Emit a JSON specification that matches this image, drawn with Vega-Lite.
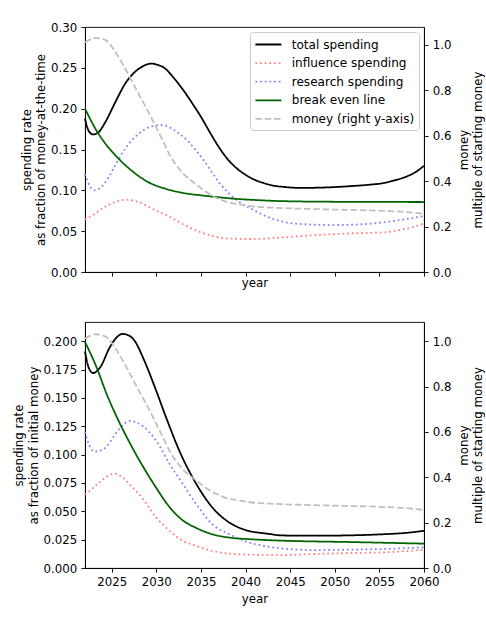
{
"$schema": "https://vega.github.io/schema/vega-lite/v6.json",
"padding": {"left": 13, "top": 21, "right": 0, "bottom": 0},
"spacing": 31,
"config": {
 "font": "DejaVu Sans",
 "view": {"stroke": "black", "strokeWidth": 0.9},
 "axis": {"grid": false, "domainColor": "black", "domainWidth": 0.9, "tickColor": "black", "tickWidth": 0.9, "tickSize": 4.1, "labelFont": "DejaVu Sans", "labelFontSize": 11.8, "labelColor": "black", "titleFont": "DejaVu Sans", "titleFontSize": 11.8, "titleFontWeight": "normal", "titleColor": "black", "labelPadding": 4.1, "titlePadding": 4, "titleLineHeight": 14.5, "labelOverlap": false, "labelFlush": false, "labelBound": false},
 "legend": {"orient": "top-right", "offset": 5, "strokeColor": "#cccccc", "fillColor": "white", "cornerRadius": 3, "padding": 4.5, "labelFont": "DejaVu Sans", "labelFontSize": 12.1, "labelColor": "black", "symbolType": "M-1.84,0H1.84", "symbolSize": 200, "symbolStrokeWidth": 1.77, "symbolOffset": 5.9, "rowPadding": 3.6, "labelOffset": 15.3, "title": null}
},
"datasets": {"d": [
{"panel":"top","series":"total spending","year":2022,"value":0.188},
{"panel":"top","series":"total spending","year":2022.4,"value":0.173},
{"panel":"top","series":"total spending","year":2022.9,"value":0.1685},
{"panel":"top","series":"total spending","year":2023.5,"value":0.171},
{"panel":"top","series":"total spending","year":2024.3,"value":0.184},
{"panel":"top","series":"total spending","year":2025.4,"value":0.208},
{"panel":"top","series":"total spending","year":2026.5,"value":0.2306},
{"panel":"top","series":"total spending","year":2027.6,"value":0.245},
{"panel":"top","series":"total spending","year":2028.5,"value":0.252},
{"panel":"top","series":"total spending","year":2029.4,"value":0.2552},
{"panel":"top","series":"total spending","year":2030.2,"value":0.2535},
{"panel":"top","series":"total spending","year":2031,"value":0.249},
{"panel":"top","series":"total spending","year":2032,"value":0.237},
{"panel":"top","series":"total spending","year":2033,"value":0.223},
{"panel":"top","series":"total spending","year":2034,"value":0.207},
{"panel":"top","series":"total spending","year":2035,"value":0.19},
{"panel":"top","series":"total spending","year":2036,"value":0.171},
{"panel":"top","series":"total spending","year":2037,"value":0.153},
{"panel":"top","series":"total spending","year":2038,"value":0.138},
{"panel":"top","series":"total spending","year":2039,"value":0.127},
{"panel":"top","series":"total spending","year":2040,"value":0.119},
{"panel":"top","series":"total spending","year":2041,"value":0.113},
{"panel":"top","series":"total spending","year":2042,"value":0.109},
{"panel":"top","series":"total spending","year":2043,"value":0.106},
{"panel":"top","series":"total spending","year":2044.5,"value":0.104},
{"panel":"top","series":"total spending","year":2046,"value":0.103},
{"panel":"top","series":"total spending","year":2048,"value":0.1032},
{"panel":"top","series":"total spending","year":2050,"value":0.104},
{"panel":"top","series":"total spending","year":2052,"value":0.1053},
{"panel":"top","series":"total spending","year":2054,"value":0.107},
{"panel":"top","series":"total spending","year":2055.5,"value":0.109},
{"panel":"top","series":"total spending","year":2056.6,"value":0.112},
{"panel":"top","series":"total spending","year":2058,"value":0.1167},
{"panel":"top","series":"total spending","year":2059,"value":0.122},
{"panel":"top","series":"total spending","year":2060,"value":0.13},
{"panel":"top","series":"influence spending","year":2022,"value":0.064},
{"panel":"top","series":"influence spending","year":2023,"value":0.0705},
{"panel":"top","series":"influence spending","year":2023.9,"value":0.0776},
{"panel":"top","series":"influence spending","year":2025.4,"value":0.0857},
{"panel":"top","series":"influence spending","year":2026.7,"value":0.0885},
{"panel":"top","series":"influence spending","year":2028,"value":0.0857},
{"panel":"top","series":"influence spending","year":2029.9,"value":0.0755},
{"panel":"top","series":"influence spending","year":2031.5,"value":0.0677},
{"panel":"top","series":"influence spending","year":2032.9,"value":0.059},
{"panel":"top","series":"influence spending","year":2034.2,"value":0.052},
{"panel":"top","series":"influence spending","year":2035.3,"value":0.0473},
{"panel":"top","series":"influence spending","year":2036.5,"value":0.0435},
{"panel":"top","series":"influence spending","year":2037.9,"value":0.0412},
{"panel":"top","series":"influence spending","year":2040.5,"value":0.0404},
{"panel":"top","series":"influence spending","year":2044.2,"value":0.0424},
{"panel":"top","series":"influence spending","year":2048,"value":0.0453},
{"panel":"top","series":"influence spending","year":2051.7,"value":0.0473},
{"panel":"top","series":"influence spending","year":2055.5,"value":0.0486},
{"panel":"top","series":"influence spending","year":2057.3,"value":0.0514},
{"panel":"top","series":"influence spending","year":2058.8,"value":0.055},
{"panel":"top","series":"influence spending","year":2060,"value":0.0595},
{"panel":"top","series":"research spending","year":2022,"value":0.12},
{"panel":"top","series":"research spending","year":2022.5,"value":0.106},
{"panel":"top","series":"research spending","year":2023.1,"value":0.1},
{"panel":"top","series":"research spending","year":2023.7,"value":0.103},
{"panel":"top","series":"research spending","year":2024.3,"value":0.11},
{"panel":"top","series":"research spending","year":2025.4,"value":0.1306},
{"panel":"top","series":"research spending","year":2026.5,"value":0.151},
{"panel":"top","series":"research spending","year":2028,"value":0.169},
{"panel":"top","series":"research spending","year":2029.5,"value":0.1785},
{"panel":"top","series":"research spending","year":2030.5,"value":0.18},
{"panel":"top","series":"research spending","year":2031.5,"value":0.177},
{"panel":"top","series":"research spending","year":2032.5,"value":0.17},
{"panel":"top","series":"research spending","year":2033.4,"value":0.1616},
{"panel":"top","series":"research spending","year":2035.3,"value":0.137},
{"panel":"top","series":"research spending","year":2037.1,"value":0.1086},
{"panel":"top","series":"research spending","year":2039,"value":0.088},
{"panel":"top","series":"research spending","year":2040.9,"value":0.0759},
{"panel":"top","series":"research spending","year":2042.4,"value":0.0677},
{"panel":"top","series":"research spending","year":2044.2,"value":0.0616},
{"panel":"top","series":"research spending","year":2046.1,"value":0.0588},
{"panel":"top","series":"research spending","year":2049.8,"value":0.0575},
{"panel":"top","series":"research spending","year":2053.6,"value":0.0588},
{"panel":"top","series":"research spending","year":2057.3,"value":0.0636},
{"panel":"top","series":"research spending","year":2060,"value":0.0685},
{"panel":"top","series":"break even line","year":2022,"value":0.2},
{"panel":"top","series":"break even line","year":2023.3,"value":0.173},
{"panel":"top","series":"break even line","year":2024.3,"value":0.157},
{"panel":"top","series":"break even line","year":2025.4,"value":0.143},
{"panel":"top","series":"break even line","year":2026.5,"value":0.131},
{"panel":"top","series":"break even line","year":2027.3,"value":0.1235},
{"panel":"top","series":"break even line","year":2029.1,"value":0.11},
{"panel":"top","series":"break even line","year":2031,"value":0.102},
{"panel":"top","series":"break even line","year":2032.9,"value":0.097},
{"panel":"top","series":"break even line","year":2035.3,"value":0.0935},
{"panel":"top","series":"break even line","year":2037,"value":0.0915},
{"panel":"top","series":"break even line","year":2039,"value":0.0895},
{"panel":"top","series":"break even line","year":2041,"value":0.0882},
{"panel":"top","series":"break even line","year":2044,"value":0.0868},
{"panel":"top","series":"break even line","year":2050,"value":0.086},
{"panel":"top","series":"break even line","year":2060,"value":0.0857},
{"panel":"top","series":"money (right y-axis)","year":2022,"value":1.012},
{"panel":"top","series":"money (right y-axis)","year":2023.2,"value":1.031},
{"panel":"top","series":"money (right y-axis)","year":2024.3,"value":1.021},
{"panel":"top","series":"money (right y-axis)","year":2025.4,"value":0.969},
{"panel":"top","series":"money (right y-axis)","year":2026.5,"value":0.896},
{"panel":"top","series":"money (right y-axis)","year":2027.6,"value":0.815},
{"panel":"top","series":"money (right y-axis)","year":2029.1,"value":0.705},
{"panel":"top","series":"money (right y-axis)","year":2030.6,"value":0.588},
{"panel":"top","series":"money (right y-axis)","year":2031.5,"value":0.515},
{"panel":"top","series":"money (right y-axis)","year":2032.9,"value":0.438},
{"panel":"top","series":"money (right y-axis)","year":2034.5,"value":0.385},
{"panel":"top","series":"money (right y-axis)","year":2035.3,"value":0.361},
{"panel":"top","series":"money (right y-axis)","year":2036.3,"value":0.335},
{"panel":"top","series":"money (right y-axis)","year":2037.1,"value":0.32},
{"panel":"top","series":"money (right y-axis)","year":2038.2,"value":0.305},
{"panel":"top","series":"money (right y-axis)","year":2039,"value":0.2996},
{"panel":"top","series":"money (right y-axis)","year":2040.5,"value":0.29},
{"panel":"top","series":"money (right y-axis)","year":2042.7,"value":0.284},
{"panel":"top","series":"money (right y-axis)","year":2046,"value":0.279},
{"panel":"top","series":"money (right y-axis)","year":2050,"value":0.275},
{"panel":"top","series":"money (right y-axis)","year":2055.5,"value":0.269},
{"panel":"top","series":"money (right y-axis)","year":2058,"value":0.264},
{"panel":"top","series":"money (right y-axis)","year":2060,"value":0.256},
{"panel":"bottom","series":"total spending","year":2022,"value":0.191},
{"panel":"bottom","series":"total spending","year":2022.4,"value":0.177},
{"panel":"bottom","series":"total spending","year":2022.9,"value":0.172},
{"panel":"bottom","series":"total spending","year":2023.7,"value":0.177},
{"panel":"bottom","series":"total spending","year":2024.8,"value":0.195},
{"panel":"bottom","series":"total spending","year":2025.5,"value":0.203},
{"panel":"bottom","series":"total spending","year":2026.2,"value":0.2065},
{"panel":"bottom","series":"total spending","year":2027,"value":0.2047},
{"panel":"bottom","series":"total spending","year":2027.6,"value":0.2},
{"panel":"bottom","series":"total spending","year":2028.5,"value":0.1856},
{"panel":"bottom","series":"total spending","year":2030,"value":0.156},
{"panel":"bottom","series":"total spending","year":2031.1,"value":0.1326},
{"panel":"bottom","series":"total spending","year":2032.6,"value":0.103},
{"panel":"bottom","series":"total spending","year":2034.5,"value":0.0738},
{"panel":"bottom","series":"total spending","year":2036.3,"value":0.0532},
{"panel":"bottom","series":"total spending","year":2038.2,"value":0.04},
{"panel":"bottom","series":"total spending","year":2040,"value":0.0335},
{"panel":"bottom","series":"total spending","year":2042.4,"value":0.0303},
{"panel":"bottom","series":"total spending","year":2044.2,"value":0.0287},
{"panel":"bottom","series":"total spending","year":2048,"value":0.0285},
{"panel":"bottom","series":"total spending","year":2051.7,"value":0.0288},
{"panel":"bottom","series":"total spending","year":2055.5,"value":0.0298},
{"panel":"bottom","series":"total spending","year":2058,"value":0.031},
{"panel":"bottom","series":"total spending","year":2060,"value":0.0328},
{"panel":"bottom","series":"influence spending","year":2022,"value":0.0645},
{"panel":"bottom","series":"influence spending","year":2023.7,"value":0.076},
{"panel":"bottom","series":"influence spending","year":2024.5,"value":0.081},
{"panel":"bottom","series":"influence spending","year":2025.3,"value":0.0832},
{"panel":"bottom","series":"influence spending","year":2026.2,"value":0.08},
{"panel":"bottom","series":"influence spending","year":2027,"value":0.0738},
{"panel":"bottom","series":"influence spending","year":2028.2,"value":0.064},
{"panel":"bottom","series":"influence spending","year":2030,"value":0.0444},
{"panel":"bottom","series":"influence spending","year":2031.5,"value":0.0326},
{"panel":"bottom","series":"influence spending","year":2033,"value":0.0238},
{"panel":"bottom","series":"influence spending","year":2034.5,"value":0.0194},
{"panel":"bottom","series":"influence spending","year":2036.3,"value":0.015},
{"panel":"bottom","series":"influence spending","year":2038.2,"value":0.0126},
{"panel":"bottom","series":"influence spending","year":2040.5,"value":0.0118},
{"panel":"bottom","series":"influence spending","year":2044.2,"value":0.0114},
{"panel":"bottom","series":"influence spending","year":2048,"value":0.0124},
{"panel":"bottom","series":"influence spending","year":2051.7,"value":0.0132},
{"panel":"bottom","series":"influence spending","year":2055.5,"value":0.0138},
{"panel":"bottom","series":"influence spending","year":2060,"value":0.0162},
{"panel":"bottom","series":"research spending","year":2022,"value":0.12},
{"panel":"bottom","series":"research spending","year":2022.5,"value":0.108},
{"panel":"bottom","series":"research spending","year":2023.1,"value":0.1026},
{"panel":"bottom","series":"research spending","year":2023.7,"value":0.1035},
{"panel":"bottom","series":"research spending","year":2024.4,"value":0.107},
{"panel":"bottom","series":"research spending","year":2025.2,"value":0.116},
{"panel":"bottom","series":"research spending","year":2025.9,"value":0.123},
{"panel":"bottom","series":"research spending","year":2027,"value":0.1297},
{"panel":"bottom","series":"research spending","year":2028.5,"value":0.125},
{"panel":"bottom","series":"research spending","year":2030,"value":0.112},
{"panel":"bottom","series":"research spending","year":2031.5,"value":0.0915},
{"panel":"bottom","series":"research spending","year":2033,"value":0.0738},
{"panel":"bottom","series":"research spending","year":2034.5,"value":0.056},
{"panel":"bottom","series":"research spending","year":2036.3,"value":0.0385},
{"panel":"bottom","series":"research spending","year":2038.2,"value":0.0297},
{"panel":"bottom","series":"research spending","year":2040,"value":0.0235},
{"panel":"bottom","series":"research spending","year":2042.4,"value":0.019},
{"panel":"bottom","series":"research spending","year":2044.2,"value":0.0171},
{"panel":"bottom","series":"research spending","year":2048,"value":0.0158},
{"panel":"bottom","series":"research spending","year":2051.7,"value":0.0162},
{"panel":"bottom","series":"research spending","year":2055.5,"value":0.0168},
{"panel":"bottom","series":"research spending","year":2060,"value":0.0182},
{"panel":"bottom","series":"break even line","year":2022,"value":0.1994},
{"panel":"bottom","series":"break even line","year":2023.3,"value":0.177},
{"panel":"bottom","series":"break even line","year":2024.4,"value":0.154},
{"panel":"bottom","series":"break even line","year":2025.9,"value":0.1276},
{"panel":"bottom","series":"break even line","year":2027,"value":0.1106},
{"panel":"bottom","series":"break even line","year":2028.5,"value":0.0895},
{"panel":"bottom","series":"break even line","year":2030,"value":0.0705},
{"panel":"bottom","series":"break even line","year":2031.5,"value":0.0535},
{"panel":"bottom","series":"break even line","year":2033,"value":0.0418},
{"panel":"bottom","series":"break even line","year":2034.5,"value":0.0352},
{"panel":"bottom","series":"break even line","year":2036.3,"value":0.0297},
{"panel":"bottom","series":"break even line","year":2038.2,"value":0.0268},
{"panel":"bottom","series":"break even line","year":2040.5,"value":0.0254},
{"panel":"bottom","series":"break even line","year":2044.2,"value":0.0241},
{"panel":"bottom","series":"break even line","year":2051.7,"value":0.0229},
{"panel":"bottom","series":"break even line","year":2060,"value":0.0215},
{"panel":"bottom","series":"money (right y-axis)","year":2022,"value":1.012},
{"panel":"bottom","series":"money (right y-axis)","year":2023.2,"value":1.031},
{"panel":"bottom","series":"money (right y-axis)","year":2024.3,"value":1.021},
{"panel":"bottom","series":"money (right y-axis)","year":2025.4,"value":0.969},
{"panel":"bottom","series":"money (right y-axis)","year":2026.5,"value":0.896},
{"panel":"bottom","series":"money (right y-axis)","year":2027.6,"value":0.815},
{"panel":"bottom","series":"money (right y-axis)","year":2029.1,"value":0.705},
{"panel":"bottom","series":"money (right y-axis)","year":2030.6,"value":0.588},
{"panel":"bottom","series":"money (right y-axis)","year":2031.5,"value":0.515},
{"panel":"bottom","series":"money (right y-axis)","year":2032.9,"value":0.438},
{"panel":"bottom","series":"money (right y-axis)","year":2034.5,"value":0.385},
{"panel":"bottom","series":"money (right y-axis)","year":2035.3,"value":0.361},
{"panel":"bottom","series":"money (right y-axis)","year":2036.3,"value":0.335},
{"panel":"bottom","series":"money (right y-axis)","year":2037.1,"value":0.32},
{"panel":"bottom","series":"money (right y-axis)","year":2038.2,"value":0.305},
{"panel":"bottom","series":"money (right y-axis)","year":2039,"value":0.2996},
{"panel":"bottom","series":"money (right y-axis)","year":2040.5,"value":0.29},
{"panel":"bottom","series":"money (right y-axis)","year":2042.7,"value":0.284},
{"panel":"bottom","series":"money (right y-axis)","year":2046,"value":0.279},
{"panel":"bottom","series":"money (right y-axis)","year":2050,"value":0.275},
{"panel":"bottom","series":"money (right y-axis)","year":2055.5,"value":0.269},
{"panel":"bottom","series":"money (right y-axis)","year":2058,"value":0.264},
{"panel":"bottom","series":"money (right y-axis)","year":2060,"value":0.256}
]},
"resolve": {"scale": {"color": "independent", "strokeDash": "independent"}},
"vconcat": [
{
 "width": 339, "height": 245,
 "data": {"name": "d"},
 "transform": [{"filter": "datum.panel == 'top'"}],
 "resolve": {"scale": {"y": "independent"}},
 "encoding": {
  "x": {"field": "year", "type": "quantitative", "scale": {"domain": [2022, 2060], "nice": false, "zero": false}, "axis": {"values": [2025,2030,2035,2040,2045,2050,2055,2060], "labels": false, "title": "year", "titlePadding": 1}},
  "color": {"field": "series", "type": "nominal", "scale": {"domain": ["total spending","influence spending","research spending","break even line","money (right y-axis)"], "range": ["black","#ff8080","#8080ff","#006400","#bfbfbf"]}},
  "strokeDash": {"field": "series", "type": "nominal", "scale": {"domain": ["total spending","influence spending","research spending","break even line","money (right y-axis)"], "range": [[1,0],[1.77,2.9],[1.77,2.9],[1,0],[6.5,2.8]]}}
 },
 "layer": [
  {"transform": [{"filter": "datum.series != 'money (right y-axis)'"}],
   "mark": {"type": "line", "strokeWidth": 1.77, "interpolate": "monotone"},
   "encoding": {"y": {"field": "value", "type": "quantitative", "scale": {"domain": [0, 0.3], "nice": false}, "axis": {"values": [0,0.05,0.1,0.15,0.2,0.25,0.3], "format": ".2f", "title": ["spending rate", "as fraction of money-at-the-time"]}}}},
  {"transform": [{"filter": "datum.series == 'money (right y-axis)'"}],
   "mark": {"type": "line", "strokeWidth": 1.77, "interpolate": "monotone"},
   "encoding": {"y": {"field": "value", "type": "quantitative", "scale": {"domain": [0, 1.079], "nice": false}, "axis": {"orient": "right", "values": [0,0.2,0.4,0.6,0.8,1.0], "format": ".1f", "titleAngle": 270, "titleX": 39, "titleY": 122.5, "titleAlign": "center", "titleBaseline": "middle", "title": ["money", "multiple of starting money"]}}}}
 ]
},
{
 "width": 339, "height": 246,
 "data": {"name": "d"},
 "transform": [{"filter": "datum.panel == 'bottom'"}],
 "resolve": {"scale": {"y": "independent"}},
 "encoding": {
  "x": {"field": "year", "type": "quantitative", "scale": {"domain": [2022, 2060], "nice": false, "zero": false}, "axis": {"values": [2025,2030,2035,2040,2045,2050,2055,2060], "format": "d", "title": "year", "titlePadding": 5}},
  "color": {"field": "series", "type": "nominal", "legend": null, "scale": {"domain": ["total spending","influence spending","research spending","break even line","money (right y-axis)"], "range": ["black","#ff8080","#8080ff","#006400","#bfbfbf"]}},
  "strokeDash": {"field": "series", "type": "nominal", "legend": null, "scale": {"domain": ["total spending","influence spending","research spending","break even line","money (right y-axis)"], "range": [[1,0],[1.77,2.9],[1.77,2.9],[1,0],[6.5,2.8]]}}
 },
 "layer": [
  {"transform": [{"filter": "datum.series != 'money (right y-axis)'"}],
   "mark": {"type": "line", "strokeWidth": 1.77, "interpolate": "monotone"},
   "encoding": {"y": {"field": "value", "type": "quantitative", "scale": {"domain": [0, 0.217], "nice": false}, "axis": {"values": [0,0.025,0.05,0.075,0.1,0.125,0.15,0.175,0.2], "format": ".3f", "title": ["spending rate", "as fraction of initial money"]}}}},
  {"transform": [{"filter": "datum.series == 'money (right y-axis)'"}],
   "mark": {"type": "line", "strokeWidth": 1.77, "interpolate": "monotone"},
   "encoding": {"y": {"field": "value", "type": "quantitative", "scale": {"domain": [0, 1.085], "nice": false}, "axis": {"orient": "right", "values": [0,0.2,0.4,0.6,0.8,1.0], "format": ".1f", "titleAngle": 270, "titleX": 39, "titleY": 123, "titleAlign": "center", "titleBaseline": "middle", "title": ["money", "multiple of starting money"]}}}}
 ]
}
]
}
